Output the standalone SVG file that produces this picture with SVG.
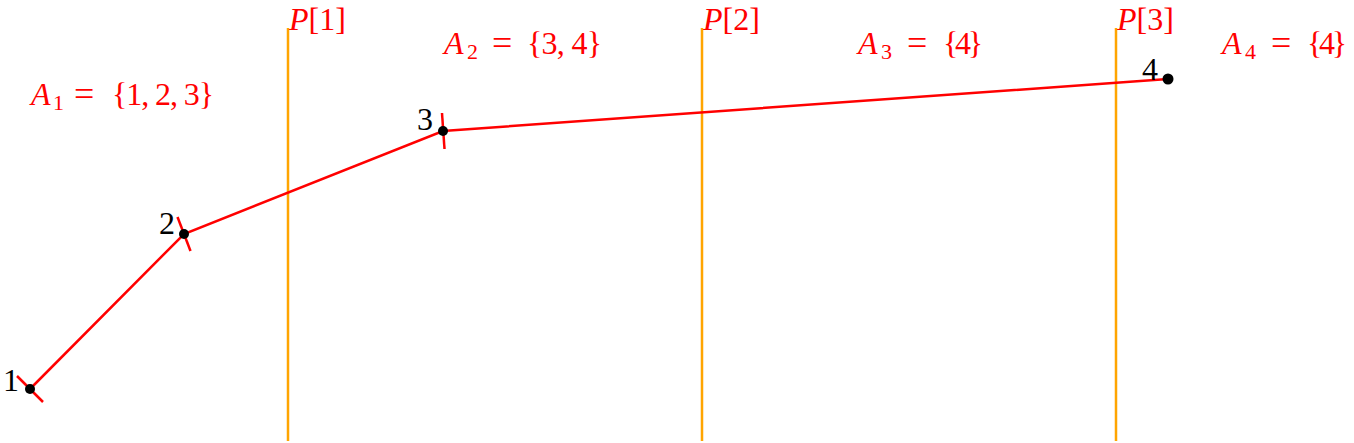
<svg xmlns="http://www.w3.org/2000/svg" width="1354" height="443" viewBox="0 0 1354 443">
<style>
.red{fill:#ff0000;font-family:"Liberation Serif","DejaVu Serif",serif;font-size:32px}
.it{font-style:italic}
.sub{font-size:22px}
.eq{font-size:36px}
.num{fill:#000;font-family:"Liberation Serif","DejaVu Serif",serif;font-size:32px}
.part{stroke:#ffa500;stroke-width:2.5;fill:none}
.seg{stroke:#ff0000;stroke-width:2.5;fill:none}
.dot{fill:#000}
</style>
<rect width="1354" height="443" fill="#fff"/>
<g id="partitions">
<line class="part" x1="288" y1="28" x2="288" y2="441"/>
<line class="part" x1="702" y1="28" x2="702" y2="441"/>
<line class="part" x1="1116" y1="28" x2="1116" y2="441"/>
</g>
<g id="partition-labels">
<text class="red" x="289" y="30"><tspan class="it">P</tspan>[1]</text>
<text class="red" x="703" y="30"><tspan class="it">P</tspan>[2]</text>
<text class="red" x="1117" y="30"><tspan class="it">P</tspan>[3]</text>
</g>
<g id="set-labels">
<text class="red it" x="31" y="105">A</text><text class="red sub" x="53" y="110">1</text><text class="red eq" x="74" y="106" textLength="27">=</text><text class="red" x="112" y="105" textLength="102">{1, 2, 3}</text>
<text class="red it" x="444" y="54">A</text><text class="red sub" x="467" y="59">2</text><text class="red eq" x="492" y="55" textLength="27">=</text><text class="red" x="527" y="54" textLength="75">{3, 4}</text>
<text class="red it" x="858" y="54">A</text><text class="red sub" x="881" y="59">3</text><text class="red eq" x="907" y="55" textLength="27">=</text><text class="red" x="943" y="54" textLength="40">{4}</text>
<text class="red it" x="1222" y="54">A</text><text class="red sub" x="1245" y="59">4</text><text class="red eq" x="1271" y="55" textLength="27">=</text><text class="red" x="1307" y="54" textLength="40">{4}</text>
</g>
<g id="connectors">
<polyline class="seg" points="30,389 184,234 443,131 1168,79"/>
<line class="seg" x1="17" y1="376" x2="43" y2="402"/>
<line class="seg" x1="177.5" y1="217" x2="190.5" y2="251"/>
<line class="seg" x1="442" y1="113" x2="444.5" y2="149"/>
</g>
<g id="node1"><circle class="dot" cx="30" cy="389" r="5"/><text class="num" x="3" y="391">1</text></g>
<g id="node2"><circle class="dot" cx="184" cy="234" r="5"/><text class="num" x="159" y="234">2</text></g>
<g id="node3"><circle class="dot" cx="443" cy="131" r="5"/><text class="num" x="417" y="130">3</text></g>
<g id="node4"><circle class="dot" cx="1168" cy="79" r="5.5"/><text class="num" x="1142" y="80">4</text></g>
</svg>
